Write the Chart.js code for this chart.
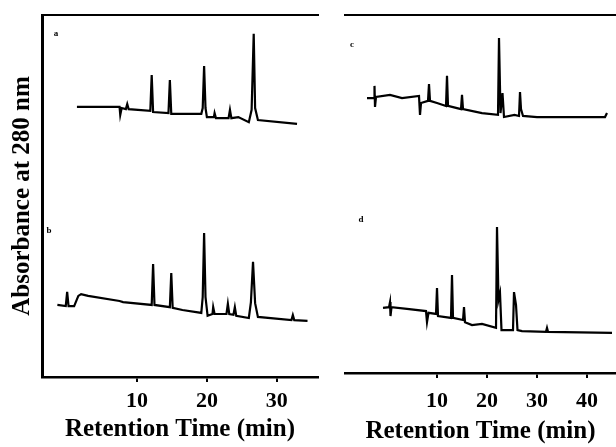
<!DOCTYPE html>
<html>
<head>
<meta charset="utf-8">
<script src="https://cdn.jsdelivr.net/npm/chart.js@4.4.1/dist/chart.umd.min.js"></script>
<style>
  html, body { margin: 0; padding: 0; background: #fff; }
  #wrap { position: relative; width: 616px; height: 447px; overflow: hidden; background: #fff; }
  .panel { position: absolute; top: 0; height: 447px; }
  #left { left: 0; width: 330px; }
  #right { left: 330px; width: 286px; }
</style>
</head>
<body>
<div id="wrap">
  <div class="panel" id="left"><canvas id="cLeft"></canvas></div>
  <div class="panel" id="right"><canvas id="cRight"></canvas></div>
</div>
<script>
// ---- tick labels ----
const leftTicks = [10, 20, 30];
const rightTicks = [10, 20, 30, 40];
const panelLabels = ['a', 'b', 'c', 'd'];
const yTitle = 'Absorbance at 280 nm';
const xTitle = 'Retention Time (min)';

// ---- trace a (left, upper) : retention time (min), absorbance (arb.) ----
const traceATime = [1.4, 7.5, 7.6, 7.8, 8.4, 8.6, 8.8, 11.9, 12.1, 12.3, 14.5, 14.7, 14.9, 19.2, 19.4, 19.6, 19.8, 20.0, 21.0, 21.1, 21.3, 23.1, 23.3, 23.5, 24.5, 26.0, 26.4, 26.7, 26.9, 27.3, 32.9];
const traceAAbs  = [74.6, 74.6, 72.4, 74.3, 74.0, 75.4, 74.0, 73.5, 83.4, 73.2, 72.9, 82.0, 72.7, 72.7, 74.3, 85.9, 74.3, 71.8, 71.8, 72.9, 71.5, 71.5, 73.8, 71.5, 71.8, 70.4, 73.8, 94.8, 74.3, 71.0, 69.9];

// ---- trace b (left, lower) ----
const traceBTime = [-1.4, -0.2, 0.0, 0.2, 1.0, 1.6, 2.0, 3.0, 7.5, 8.0, 12.1, 12.3, 12.5, 14.7, 14.9, 15.1, 16.5, 19.2, 19.4, 19.6, 19.8, 20.1, 20.8, 20.9, 21.1, 22.8, 23.0, 23.2, 23.8, 24.0, 24.2, 26.0, 26.3, 26.6, 26.9, 27.3, 32.1, 32.3, 32.5, 34.4];
const traceBAbs  = [19.9, 19.6, 23.5, 19.6, 19.6, 22.4, 22.9, 22.4, 21.0, 20.7, 19.9, 31.2, 19.9, 19.3, 28.7, 19.1, 18.5, 17.7, 22.1, 39.8, 22.1, 16.9, 17.4, 19.3, 17.4, 17.4, 20.2, 17.4, 17.2, 19.3, 16.9, 16.3, 20.7, 31.8, 20.4, 16.6, 15.7, 17.1, 15.7, 15.5];

// ---- trace c (right, upper) ----
const traceCTime = [-4.0, -2.6, -2.5, -2.4, -2.2, 0.6, 3.0, 6.4, 6.6, 6.8, 8.2, 8.4, 8.6, 10.0, 11.8, 12.0, 12.2, 14.0, 14.8, 15.0, 15.2, 19.0, 22.2, 22.4, 22.7, 23.1, 23.4, 25.5, 26.4, 26.6, 26.8, 27.2, 30.0, 43.6, 44.0];
const traceCAbs  = [76.8, 76.8, 80.2, 74.3, 77.1, 77.7, 76.8, 77.4, 72.1, 75.4, 76.0, 80.7, 76.0, 75.4, 74.6, 83.0, 74.6, 74.0, 73.7, 77.7, 73.7, 72.6, 72.1, 93.6, 72.6, 78.2, 71.5, 72.1, 71.8, 78.5, 73.7, 71.8, 71.5, 71.5, 72.6];

// ---- trace d (right, lower) ----
const traceDTime = [-0.8, 0.4, 0.6, 0.7, 0.9, 4.0, 7.8, 8.0, 8.3, 9.8, 10.0, 10.2, 12.8, 13.0, 13.2, 15.2, 15.4, 15.6, 17.0, 19.0, 21.8, 22.0, 22.3, 22.6, 22.9, 25.2, 25.4, 25.8, 26.1, 27.0, 31.8, 32.0, 32.2, 45.0];
const traceDAbs  = [18.2, 18.4, 19.8, 15.9, 18.4, 17.9, 17.3, 14.2, 16.8, 16.5, 23.7, 15.9, 15.4, 27.4, 15.4, 14.8, 18.4, 14.2, 13.4, 13.7, 12.6, 40.8, 20.4, 22.3, 12.0, 12.0, 22.6, 19.0, 12.0, 11.7, 11.5, 12.6, 11.5, 11.2];

const toXY = (ts, vs) => ts.map((t, i) => ({ x: t, y: vs[i] }));

const serif = "'Liberation Serif', 'DejaVu Serif', serif";

function traceDataset(ts, vs) {
  return {
    data: toXY(ts, vs),
    borderColor: '#000',
    borderWidth: 2.2,
    pointRadius: 0,
    tension: 0,
    fill: false
  };
}

function labelPlugin(labels) {
  return {
    id: 'panelLabels',
    afterDatasetsDraw(chart) {
      const ctx = chart.ctx;
      const a = chart.chartArea;
      ctx.save();
      ctx.fillStyle = '#000';
      ctx.font = 'bold 9px ' + serif;
      ctx.textAlign = 'center';
      ctx.textBaseline = 'middle';
      labels.forEach(l => ctx.fillText(l.text, a.left + l.dx, a.top + l.dy));
      ctx.restore();
    }
  };
}

function makeChart(id, opts) {
  return new Chart(document.getElementById(id), {
    type: 'line',
    data: { datasets: opts.datasets },
    options: {
      responsive: true,
      maintainAspectRatio: false,
      animation: false,
      events: [],
      layout: { padding: opts.padding },
      plugins: { legend: { display: false }, tooltip: { enabled: false } },
      scales: {
        x: {
          type: 'linear',
          min: opts.xMin, max: opts.xMax,
          afterBuildTicks: (s) => { s.ticks = opts.ticks.map(v => ({ value: v })); },
          grid: { display: true, drawOnChartArea: false, drawTicks: true, tickLength: 5, color: '#000', lineWidth: 2 },
          border: { display: true, color: '#000', width: 2.5 },
          ticks: { color: '#000', font: { family: serif, size: 22, weight: 'bold' }, padding: opts.tickPad, maxRotation: 0, autoSkip: false },
          title: { display: true, text: xTitle, color: '#000', font: { family: serif, size: 25, weight: 'bold', lineHeight: opts.titleLH }, padding: { top: 0, bottom: opts.titlePB } }
        },
        xTop: {
          type: 'linear', position: 'top',
          min: opts.xMin, max: opts.xMax,
          grid: { display: false, drawTicks: false },
          border: { display: true, color: '#000', width: 2 },
          ticks: { display: false }
        },
        y: {
          type: 'linear',
          min: 0, max: 100,
          display: opts.showY,
          grid: { display: false, drawTicks: false },
          border: { display: true, color: '#000', width: 3 },
          ticks: { display: false },
          title: { display: true, text: yTitle, color: '#000', font: { family: serif, size: 25, weight: 'bold' }, padding: { top: 4, bottom: 4 } }
        }
      }
    },
    plugins: [labelPlugin(opts.labels)]
  });
}

makeChart('cLeft', {
  datasets: [traceDataset(traceATime, traceAAbs), traceDataset(traceBTime, traceBAbs)],
  xMin: -3.6, xMax: 35.9,
  ticks: leftTicks,
  tickPad: 6.5,
  titleLH: 0.688,
  titlePB: 8.4,
  showY: true,
  padding: { left: 4, top: 15, right: 12, bottom: 0 },
  labels: [{ text: panelLabels[0], dx: 14, dy: 19 }, { text: panelLabels[1], dx: 7, dy: 216 }]
});

makeChart('cRight', {
  datasets: [traceDataset(traceCTime, traceCAbs), traceDataset(traceDTime, traceDAbs)],
  xMin: -8.4, xMax: 45.8,
  ticks: rightTicks,
  tickPad: 10,
  titleLH: 0.608,
  titlePB: 7.4,
  showY: false,
  padding: { left: 15, top: 15, right: 0, bottom: 0 },
  labels: [{ text: panelLabels[2], dx: 7, dy: 30 }, { text: panelLabels[3], dx: 16, dy: 205 }]
});
</script>
</body>
</html>
